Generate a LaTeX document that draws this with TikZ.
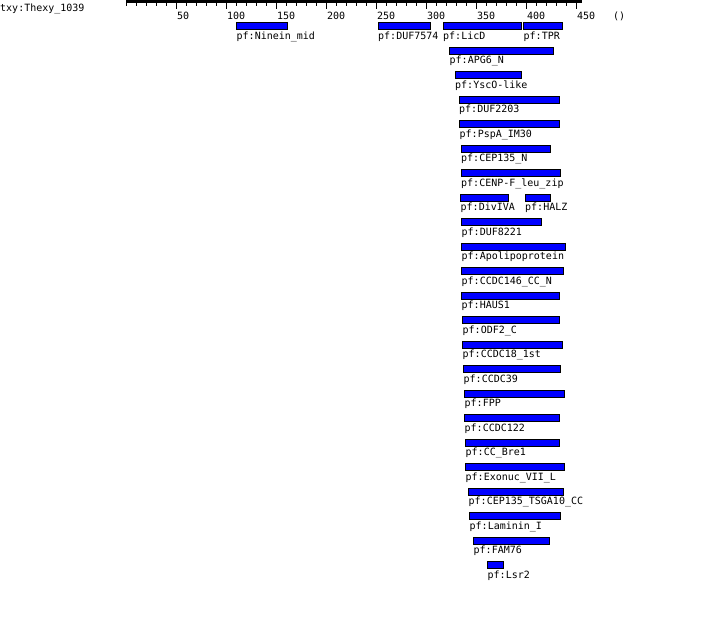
\documentclass[tikz,border=0pt]{standalone}
\usepackage{fontspec}
\setmonofont{DejaVu Sans Mono}
\begin{document}
\begin{tikzpicture}[x=1pt,y=-1pt,
  dbar/.style={draw=black,fill=blue,line width=1pt,inner sep=0pt,outer sep=0pt,minimum height=7pt,anchor=north west},
  dlab/.style={font=\ttfamily\fontsize{10pt}{12pt}\selectfont,inner sep=0pt,anchor=base west},
  rlab/.style={font=\ttfamily\fontsize{10pt}{12pt}\selectfont,inner sep=0pt,anchor=base west},
  tick/.style={line width=1pt,black}]
\useasboundingbox[fill=white] (0,0) rectangle (702,624);
% header
\node[rlab] (title) at (0,11) {txy:Thexy\_1039};
\fill[black] (126,0) rectangle (582,3);
\coordinate (rulerL) at (126,0);
\foreach \k in {0,...,45} {
  \pgfmathtruncatemacro\m{mod(\k,5)}
  \ifnum\m=0 \ifnum\k>0
    \draw[tick] ({126.5+10*\k},3) -- ({126.5+10*\k},9);
  \else
    \draw[tick] ({126.5+10*\k},3) -- ({126.5+10*\k},6);
  \fi\else
    \draw[tick] ({126.5+10*\k},3) -- ({126.5+10*\k},6);
  \fi
}
\foreach \v in {50,100,...,450} \node[rlab] (t\v) at ({127+\v},19.5) {\v};
\node[rlab] (unit) at (613,19.5) {()};
% domains
\newcommand\dom[5]{%
  \node[dbar,minimum width={(#3-#2)*1pt}] (#1) at (#2,{22.8+24.5*#4}) {};
  \node[dlab] (#1l) at ([yshift=-9.6pt]#1.south west) {pf:#5};
}
\dom{a1}{236.5}{287.5}{0}{Ninein\_mid}
\dom{a2}{378}{430.5}{0}{DUF7574}
\dom{a3}{443}{521}{0}{LicD}
\dom{a4}{523.5}{562.5}{0}{TPR}
\dom{b1}{449.5}{553.5}{1}{APG6\_N}
\dom{b2}{455}{521}{2}{YscO-like}
\dom{b3}{459}{559}{3}{DUF2203}
\dom{b4}{459.5}{559}{4}{PspA\_IM30}
\dom{b5}{461}{550}{5}{CEP135\_N}
\dom{b6}{461}{560}{6}{CENP-F\_leu\_zip}
\dom{b7}{460.5}{508}{7}{DivIVA}
\dom{b8}{525}{550}{7}{HALZ}
\dom{b9}{461.5}{541}{8}{DUF8221}
\dom{c1}{461.5}{565}{9}{Apolipoprotein}
\dom{c2}{461.5}{563}{10}{CCDC146\_CC\_N}
\dom{c3}{461.5}{559}{11}{HAUS1}
\dom{c4}{462.5}{559}{12}{ODF2\_C}
\dom{c5}{462.5}{562}{13}{CCDC18\_1st}
\dom{c6}{463.5}{560}{14}{CCDC39}
\dom{c7}{464.5}{564}{15}{FPP}
\dom{c8}{464.5}{559}{16}{CCDC122}
\dom{c9}{465.5}{559}{17}{CC\_Bre1}
\dom{d1}{465.5}{564}{18}{Exonuc\_VII\_L}
\dom{d2}{468.5}{563}{19}{CEP135\_TSGA10\_CC}
\dom{d3}{469.5}{560}{20}{Laminin\_I}
\dom{d4}{473.5}{549}{21}{FAM76}
\dom{d5}{487.5}{503.5}{22}{Lsr2}
\end{tikzpicture}
\end{document}
